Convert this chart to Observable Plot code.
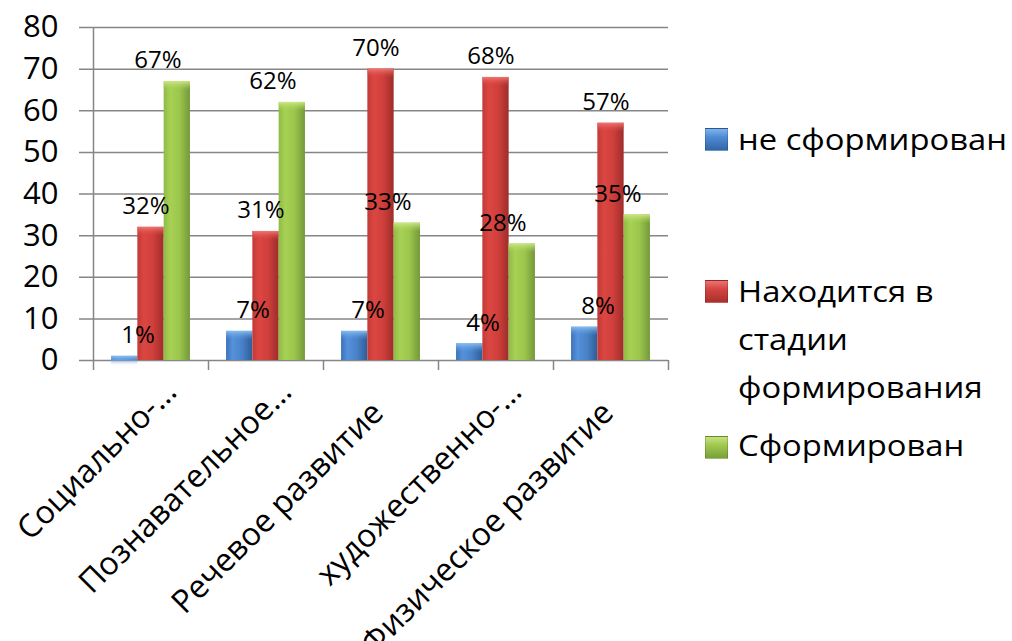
<!DOCTYPE html>
<html><head><meta charset="utf-8">
<script src="https://cdn.jsdelivr.net/npm/d3@7"></script>
<script src="https://cdn.jsdelivr.net/npm/@observablehq/plot@0.6"></script>
<style>
html,body{margin:0;padding:0;background:#fff;overflow:hidden}
#wrap{position:relative;width:1012px;height:641px;overflow:hidden;font-family:"Open Sans",sans-serif}
#wrap svg{display:block;overflow:hidden}
.lg{position:absolute;left:705px;width:23px;height:23px;box-sizing:border-box;border:1px solid rgba(0,0,0,0.15)}
.lt{position:absolute;left:738px;font-size:29px;line-height:48px;color:#000;white-space:nowrap;transform:scaleX(1.13);transform-origin:0 0}
</style></head><body><div id="wrap"></div>
<script>
const categories = ["Социально-…", "Познавательное…", "Речевое развитие", "художественно-…", "Физическое развитие"];
const seriesNames = ["не сформирован", "Находится в стадии формирования", "Сформирован"];
const notFormed = [1, 7, 7, 4, 8];
const forming = [32, 31, 70, 68, 57];
const formed = [67, 62, 33, 28, 35];
const yTicks = [0, 10, 20, 30, 40, 50, 60, 70, 80];

const seriesValues = [notFormed, forming, formed];
const gradIds = ["gBlue", "gRed", "gGreen"];
const barOffsets = [-26.3, 0, 26.3];
const labelOffsets = [-13, -5, 7];
const font = "'Open Sans', sans-serif";

const rows = seriesValues.map((vals, s) => categories.map((c, i) => ({category: c, value: vals[i], series: seriesNames[s]})));
const truncated = categories.filter(c => c.endsWith("…"));
const full = categories.filter(c => !c.endsWith("…"));

const marks = [
  Plot.ruleY(yTicks, {y: d => d, stroke: "#868686", strokeWidth: 1.5, insetLeft: -14}),
  Plot.ruleX(categories.slice(0, 1), {x: d => d, dx: -57.5, y1: -2.4, y2: 80, stroke: "#868686", strokeWidth: 1.5}),
  Plot.ruleX(categories, {x: d => d, dx: 57.5, y1: 0, y2: -2.4, stroke: "#868686", strokeWidth: 1.5})
];
rows.forEach((data, s) => {
  marks.push(Plot.barY(data, {x: "category", y: "value", fill: `url(#${gradIds[s]})`, insetLeft: 44.35, insetRight: 44.35, dx: barOffsets[s]}));
  marks.push(Plot.barY(data, {x: "category", y1: "value", y2: "value", fill: `url(#${gradIds[s]}Top)`, insetLeft: 44.35, insetRight: 44.35, insetBottom: -9, dx: barOffsets[s]}));
});
rows.forEach((data, s) => {
  marks.push(Plot.text(data, {x: "category", y: "value", text: d => d.value + "%", dx: labelOffsets[s], dy: -21, fontSize: 24, fontFamily: font, fill: "#000", textAnchor: "middle", lineAnchor: "middle"}));
});
marks.push(Plot.text(full, {x: d => d, y: 0, text: d => d, rotate: -45, textAnchor: "end", lineAnchor: "middle", dx: -3, dy: 47, fontSize: 32, fontFamily: font, fill: "#000"}));
marks.push(Plot.text(truncated, {x: d => d, y: 0, text: d => d, rotate: -45, textAnchor: "end", lineAnchor: "middle", dx: 20, dy: 26, fontSize: 32, fontFamily: font, fill: "#000"}));
marks.push(Plot.axisY(yTicks, {tickSize: 0, tickPadding: 35, fontSize: 31, fontFamily: font, fill: "#000", label: null}));

const plot = Plot.plot({
  width: 1012, height: 641,
  marginLeft: 93, marginRight: 344, marginTop: 27, marginBottom: 281,
  x: {domain: categories, padding: 0, axis: null},
  y: {domain: [0, 80]},
  style: {fontFamily: font, background: "#fff", overflow: "hidden"},
  marks
});

const defs = d3.select(plot).insert("defs", ":first-child");
function hgrad(id, stops) {
  const g = defs.append("linearGradient").attr("id", id).attr("x1", 0).attr("x2", 1).attr("y1", 0).attr("y2", 0);
  stops.forEach(([o, c]) => g.append("stop").attr("offset", o).attr("stop-color", c));
}
function vgrad(id, c1, c2) {
  const g = defs.append("linearGradient").attr("id", id).attr("x1", 0).attr("x2", 0).attr("y1", 0).attr("y2", 1);
  g.append("stop").attr("offset", 0).attr("stop-color", c1).attr("stop-opacity", 0.95);
  g.append("stop").attr("offset", 1).attr("stop-color", c2).attr("stop-opacity", 0);
}
hgrad("gBlue", [[0, "#3d72b8"], [0.25, "#5591dc"], [0.6, "#4a82c8"], [1, "#2e5d98"]]);
hgrad("gRed", [[0, "#c03a36"], [0.25, "#dc4642"], [0.6, "#cf3f3b"], [1, "#9e2d2a"]]);
hgrad("gGreen", [[0, "#8fba46"], [0.25, "#a7d154"], [0.6, "#9cc64c"], [1, "#73993a"]]);
vgrad("gBlueTop", "#8cc0f2", "#5591dc");
vgrad("gRedTop", "#f07a76", "#dc4642");
vgrad("gGreenTop", "#cfe98a", "#a7d154");

const wrap = document.getElementById("wrap");
wrap.appendChild(plot);

const legendSquares = [
  {top: 128, bg: "linear-gradient(to bottom,#7db4ec 0%,#4d8ad4 40%,#3466a8 100%)"},
  {top: 280, bg: "linear-gradient(to bottom,#ee726e 0%,#d34440 40%,#a8302d 100%)"},
  {top: 436, bg: "linear-gradient(to bottom,#c6e27e 0%,#9fc84e 40%,#77a03a 100%)"}
];
const legendLines = [["не сформирован"], ["Находится в", "стадии", "формирования"], ["Сформирован"]];
const legendTops = [115, 267, 421];
legendSquares.forEach((sq, i) => {
  const d = document.createElement("div");
  d.className = "lg"; d.style.top = sq.top + "px"; d.style.background = sq.bg;
  wrap.appendChild(d);
  const t = document.createElement("div");
  t.className = "lt"; t.style.top = legendTops[i] + "px";
  t.innerHTML = legendLines[i].join("<br>");
  wrap.appendChild(t);
});
</script></body></html>
